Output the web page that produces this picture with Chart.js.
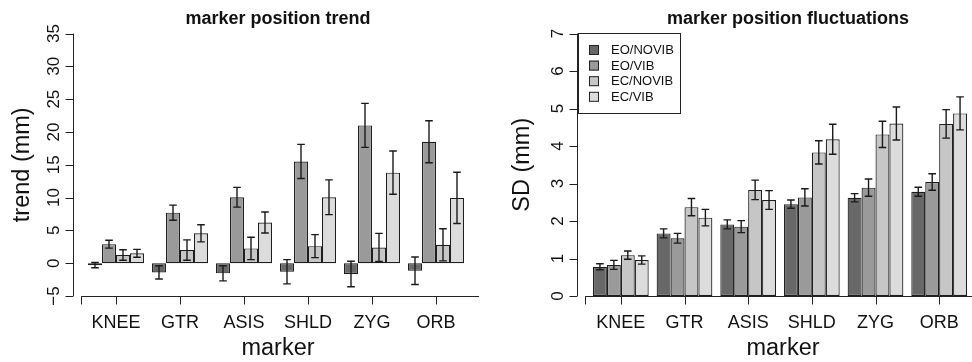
<!DOCTYPE html>
<html>
<head>
<meta charset="utf-8">
<script src="https://cdn.jsdelivr.net/npm/chart.js@4.4.1/dist/chart.umd.min.js"></script>
<style>
  html, body { margin: 0; padding: 0; background: #fff; }
  #wrap { position: relative; width: 972px; height: 362px; overflow: hidden; }
  canvas { position: absolute; top: 0; }
  #trend { left: 0; }
  #sd { left: 486px; }
</style>
</head>
<body>
<div id="wrap">
  <canvas id="trend" width="486" height="362"></canvas>
  <canvas id="sd" width="486" height="362"></canvas>
</div>
<script>
const markers = ['KNEE', 'GTR', 'ASIS', 'SHLD', 'ZYG', 'ORB'];
const conditions = ['EO/NOVIB', 'EO/VIB', 'EC/NOVIB', 'EC/VIB'];
const greys = ['#686868', '#9a9a9a', '#c6c6c6', '#dcdcdc'];

// left panel: trend (mm), means and error half-widths
const trendEoNovib = [-0.3, -1.4, -1.55, -1.3, -1.65, -1.15];
const trendEoVib = [2.9, 7.7, 10.05, 15.5, 21.0, 18.5];
const trendEcNovib = [1.25, 2.0, 2.25, 2.6, 2.4, 2.8];
const trendEcVib = [1.5, 4.55, 6.2, 10.05, 13.8, 9.95];
const trendEoNovibErr = [0.4, 1.0, 1.15, 1.85, 1.95, 2.1];
const trendEoVibErr = [0.6, 1.15, 1.5, 2.6, 3.35, 3.2];
const trendEcNovibErr = [0.8, 1.55, 1.7, 1.75, 2.15, 2.45];
const trendEcVibErr = [0.6, 1.3, 1.6, 2.65, 3.3, 3.9];
const trendTicks = [-5, 0, 5, 10, 15, 20, 25, 30, 35];
const trendTickLabels = ['\u22125', '0', '5', '10', '15', '20', '25', '30', '35'];

// right panel: SD (mm)
const sdEoNovib = [0.78, 1.67, 1.91, 2.45, 2.62, 2.78];
const sdEoVib = [0.83, 1.54, 1.85, 2.63, 2.89, 3.04];
const sdEcNovib = [1.09, 2.37, 2.83, 3.83, 4.31, 4.59];
const sdEcVib = [0.96, 2.09, 2.56, 4.18, 4.6, 4.87];
const sdEoNovibErr = [0.08, 0.12, 0.12, 0.11, 0.11, 0.12];
const sdEoVibErr = [0.12, 0.13, 0.16, 0.23, 0.23, 0.22];
const sdEcNovibErr = [0.11, 0.23, 0.26, 0.31, 0.35, 0.38];
const sdEcVibErr = [0.11, 0.22, 0.25, 0.4, 0.44, 0.44];
const sdTicks = [0, 1, 2, 3, 4, 5, 6, 7];
const sdTickLabels = ['0', '1', '2', '3', '4', '5', '6', '7'];

const FONT = '"Liberation Sans", Arial, sans-serif';


function makeDatasets(series, errs) {
  return series.map((s, i) => ({
    label: conditions[i],
    data: s,
    err: errs[i],
    backgroundColor: greys[i],
    borderColor: '#1e1e1e',
    borderWidth: 1.2,
    borderSkipped: false,
    categoryPercentage: 0.875,
    barPercentage: 1.0,
  }));
}


// R-ish axes, titles, error bars and legend drawn through the chart's scales
function rStyle(opt) {
  return {
    id: 'rStyle',
    afterDatasetsDraw(chart) {
      const ctx = chart.ctx;
      const y = chart.scales.y;
      ctx.save();
      ctx.strokeStyle = '#1a1a1a';
      ctx.lineWidth = 1.4;
      chart.data.datasets.forEach((ds, i) => {
        const meta = chart.getDatasetMeta(i);
        meta.data.forEach((bar, j) => {
          const v = ds.data[j], e = ds.err[j];
          const top = y.getPixelForValue(v + e);
          const bot = y.getPixelForValue(v - e);
          ctx.beginPath();
          ctx.moveTo(bar.x, top); ctx.lineTo(bar.x, bot);
          ctx.moveTo(bar.x - 3.8, top); ctx.lineTo(bar.x + 3.8, top);
          ctx.moveTo(bar.x - 3.8, bot); ctx.lineTo(bar.x + 3.8, bot);
          ctx.stroke();
        });
      });
      ctx.restore();
    },
    afterDraw(chart) {
      const ctx = chart.ctx;
      const x = chart.scales.x, y = chart.scales.y;
      const area = chart.chartArea;
      ctx.save();
      ctx.strokeStyle = '#222';
      ctx.fillStyle = '#111';
      ctx.lineWidth = 1;

      // y axis
      const ax = opt.yAxisX + 0.5;
      ctx.beginPath();
      ctx.moveTo(ax, y.getPixelForValue(opt.ticks[0]));
      ctx.lineTo(ax, y.getPixelForValue(opt.ticks[opt.ticks.length - 1]));
      opt.ticks.forEach(t => {
        const py = Math.round(y.getPixelForValue(t)) + 0.5;
        ctx.moveTo(ax, py); ctx.lineTo(ax - 8, py);
      });
      ctx.stroke();
      ctx.font = '17px ' + FONT;
      ctx.textAlign = 'center';
      ctx.textBaseline = 'middle';
      opt.ticks.forEach((t, i) => {
        ctx.save();
        ctx.translate(opt.yAxisX - 19, y.getPixelForValue(t));
        ctx.rotate(-Math.PI / 2);
        ctx.fillText(opt.tickLabels[i], 0, 0);
        ctx.restore();
      });

      // x axis
      const by = Math.round(area.bottom) + 0.5;
      ctx.beginPath();
      ctx.moveTo(opt.xStart, by); ctx.lineTo(opt.xEnd, by);
      ctx.moveTo(opt.xStart + 0.5, by); ctx.lineTo(opt.xStart + 0.5, by + 8);
      markers.forEach((m, i) => {
        const px = Math.round(x.getPixelForValue(i)) + 0.5;
        ctx.moveTo(px, by); ctx.lineTo(px, by + 8);
      });
      ctx.stroke();
      ctx.font = '18px ' + FONT;
      markers.forEach((m, i) => {
        ctx.fillText(m, x.getPixelForValue(i), by + 27);
      });

      // titles
      ctx.font = '23.5px ' + FONT;
      ctx.fillText('marker', opt.titleX, 349);
      ctx.save();
      ctx.translate(opt.yTitleX, (area.top + area.bottom) / 2);
      ctx.rotate(-Math.PI / 2);
      ctx.fillText(opt.yTitle, 0, 0);
      ctx.restore();
      ctx.font = 'bold 18px ' + FONT;
      ctx.fillText(opt.title, opt.mainX, 19);

      // legend box
      if (opt.legend) {
        const L = opt.legend;
        ctx.strokeRect(L.x + 0.5, L.y + 0.5, L.w, L.h);
        ctx.font = '13px ' + FONT;
        ctx.textAlign = 'left';
        chart.data.datasets.forEach((ds, i) => {
          const ry = L.y + 17 + i * 15.6;
          ctx.fillStyle = ds.backgroundColor;
          ctx.fillRect(L.x + 11, ry - 5, 10, 10);
          ctx.strokeStyle = '#222';
          ctx.strokeRect(L.x + 11.5, ry - 4.5, 9, 9);
          ctx.fillStyle = '#111';
          ctx.fillText(ds.label, L.x + 33, ry + 0.5);
        });
      }
      ctx.restore();
    }
  };
}


function barChart(id, series, errs, yMin, yMax, padding, opt) {
  return new Chart(document.getElementById(id), {
    type: 'bar',
    data: {
      labels: markers,
      datasets: makeDatasets(series, errs),
    },
    options: {
      responsive: false,
      animation: false,
      layout: { padding: padding },
      scales: {
        x: { type: 'category', display: false },
        y: { display: false, min: yMin, max: yMax },
      },
      plugins: {
        legend: { display: false },
        tooltip: { enabled: false },
      },
    },
    plugins: [rStyle(opt)],
  });
}


barChart('trend',
  [trendEoNovib, trendEoVib, trendEcNovib, trendEcVib],
  [trendEoNovibErr, trendEoVibErr, trendEcNovibErr, trendEcVibErr],
  -5, 35,
  { left: 84, right: 18, top: 33.5, bottom: 66 },
  {
    ticks: trendTicks, tickLabels: trendTickLabels,
    yAxisX: 73, xStart: 81, xEnd: 479,
    title: 'marker position trend', mainX: 278, titleX: 278,
    yTitle: 'trend (mm)', yTitleX: 23,
  });

barChart('sd',
  [sdEoNovib, sdEoVib, sdEcNovib, sdEcVib],
  [sdEoNovibErr, sdEoVibErr, sdEcNovibErr, sdEcVibErr],
  0, 7,
  { left: 103, right: 1, top: 33.5, bottom: 66 },
  {
    ticks: sdTicks, tickLabels: sdTickLabels,
    yAxisX: 91, xStart: 99, xEnd: 486,
    title: 'marker position fluctuations', mainX: 302, titleX: 297,
    yTitle: 'SD (mm)', yTitleX: 37,
    legend: { x: 92, y: 33, w: 102, h: 80 },
  });
</script>
</body>
</html>
